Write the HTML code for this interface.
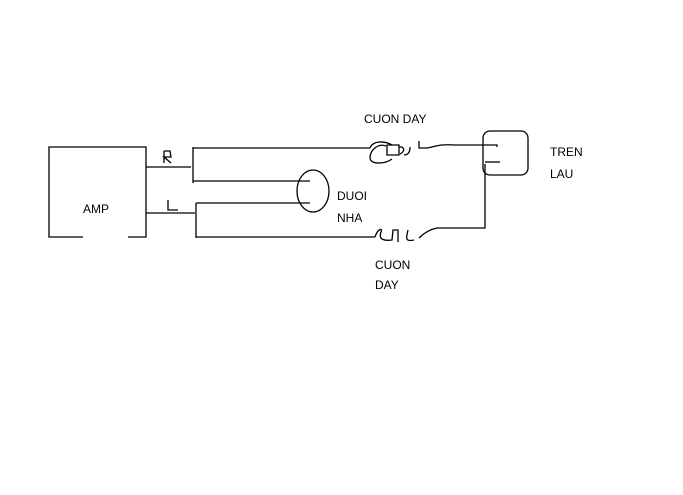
<!DOCTYPE html>
<html><head><style>
html,body{margin:0;padding:0;background:#fff;}
svg{display:block}
text{font-family:"Liberation Sans",sans-serif;font-size:12px;fill:#000}
</style></head><body>
<svg width="683" height="495" viewBox="0 0 683 495" xmlns="http://www.w3.org/2000/svg">
<g stroke="#000" stroke-width="1.3" fill="none">
<path d="M83 237 H49 V147 H146 V237 H128"/>
<path d="M146 167 H191"/>
<path d="M193 147 V183"/>
<path d="M193 148 H370"/>
<path d="M193 181 H310"/>
<path d="M146 213 H195"/>
<path d="M196 203 V238"/>
<path d="M196 203 H310"/>
<path d="M196 237 H375"/>
<ellipse cx="313" cy="191" rx="16" ry="21"/>
<path d="M164 151 V163 M164 151 H170 L171 157 H164 L171 163"/>
<path d="M168 200 V210 H178"/>
<!-- top coil -->
<path d="M370 148 C373 140 385 141 392 145 M386 146 C378 143 370 150 370 158 C371 165 385 164 392 159"/>
<path d="M387 145 H399 V155 H387 Z"/>
<path d="M399 147 C405 146 405 152 400 154 M404 155 C408 155 410 152 410 147"/>
<path d="M419 141 V148 H427 C437 146 440 144 455 145 H494"/>
<!-- tren lau -->
<rect x="483" y="131" width="45" height="44" rx="7"/>
<path d="M494 145 H497 V147"/>
<path d="M485 162 H500"/>
<path d="M485 164 V228 H437"/>
<!-- bottom coil -->
<path d="M375 237 C378 228 383 228 381 232 C378 240 385 241 392 240 L393 230 H398 V242 M408 230 C406 238 405 242 414 240 M419 238 C425 232 432 229 437 228"/>
</g>
<text x="83" y="213" font-size="11">AMP</text>
<text x="337" y="200" font-size="11">DUOI</text>
<text x="337" y="222" font-size="11">NHA</text>
<text x="364" y="123" font-size="11">CUON DAY</text>
<text x="550" y="156" font-size="11">TREN</text>
<text x="550" y="178" font-size="11">LAU</text>
<text x="375" y="269" font-size="11">CUON</text>
<text x="375" y="289" font-size="11">DAY</text>
</svg>
</body></html>
